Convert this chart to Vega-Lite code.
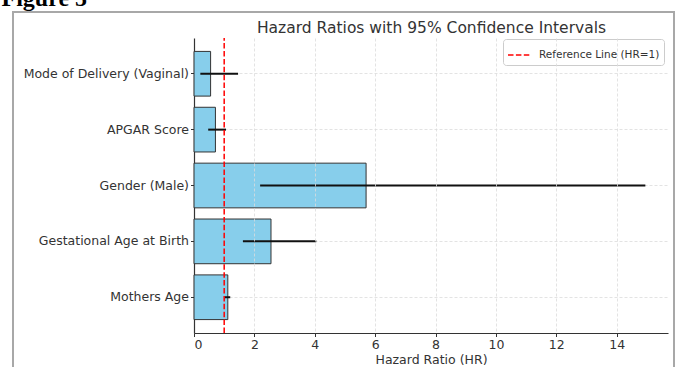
{
  "$schema": "https://vega.github.io/schema/vega-lite/v6.json",
  "width": 661,
  "height": 358,
  "autosize": {"type": "none"},
  "padding": {"left": 13, "top": 12, "right": 5, "bottom": -3},
  "datasets": {
    "hr": [
      {"factor": "Mode of Delivery (Vaginal)", "hr": 0.55, "lo": 0.21, "hi": 1.46},
      {"factor": "APGAR Score", "hr": 0.71, "lo": 0.47, "hi": 1.06},
      {"factor": "Gender (Male)", "hr": 5.7, "lo": 2.19, "hi": 14.95},
      {"factor": "Gestational Age at Birth", "hr": 2.55, "lo": 1.62, "hi": 4.05},
      {"factor": "Mothers Age", "hr": 1.12, "lo": 1.02, "hi": 1.2}
    ],
    "ref": [{"value": 1, "label": "Reference Line (HR=1)"}]
  },
  "layer": [
    {
      "data": {"name": "hr"},
      "mark": {"type": "bar", "fill": "#87ceeb", "stroke": "#333333", "strokeWidth": 1},
      "encoding": {
        "x": {
          "field": "hr", "type": "quantitative",
          "scale": {"domain": [0, 15.7], "range": [181, 655], "nice": false, "zero": true},
          "axis": {"orient": "bottom", "offset": -37, "values": [0, 2, 4, 6, 8, 10, 12, 14], "grid": false, "zindex": 1, "title": "Hazard Ratio (HR)", "titlePadding": 2.5}
        },
        "y": {
          "field": "factor", "type": "nominal",
          "scale": {"domain": ["Mode of Delivery (Vaginal)", "APGAR Score", "Gender (Male)", "Gestational Age at Birth", "Mothers Age"], "range": [26, 321], "paddingInner": 0.2, "paddingOuter": 0.24},
          "axis": {"orient": "left", "offset": -181, "grid": true, "zindex": 0, "labelLimit": 400,
            "title": "Figure 5", "titleX": -193, "titleY": -7, "titleAngle": 0, "titleAlign": "left", "titleBaseline": "alphabetic",
            "titleFont": "Liberation Serif", "titleFontSize": 24, "titleFontWeight": "bold", "titleColor": "#000000"}
        }
      }
    },
    {
      "data": {"name": "hr"},
      "mark": {"type": "rule", "color": "#111111", "strokeWidth": 2},
      "encoding": {
        "x": {
          "field": "lo", "type": "quantitative",
          "axis": {"orient": "top", "offset": -26, "values": [2, 4, 6, 8, 10, 12, 14], "labels": false, "ticks": false, "domain": false, "grid": true, "zindex": 1, "title": "Hazard Ratios with 95% Confidence Intervals", "titleFontSize": 15.5, "titleBaseline": "alphabetic", "titlePadding": 6}
        },
        "x2": {"field": "hi"},
        "y": {
          "field": "factor", "type": "nominal",
          "scale": {"domain": ["Mode of Delivery (Vaginal)", "APGAR Score", "Gender (Male)", "Gestational Age at Birth", "Mothers Age"], "range": [26, 321], "paddingInner": 0.2, "paddingOuter": 0.24},
          "axis": null
        }
      }
    },
    {
      "data": {"name": "ref"},
      "mark": {"type": "rule", "strokeWidth": 1.5, "strokeDash": [5.5, 2.4]},
      "encoding": {
        "x": {"field": "value", "type": "quantitative", "axis": null},
        "y": {"datum": 0, "type": "quantitative", "scale": {"domain": [0, 1], "range": [321, 26]}, "axis": null},
        "y2": {"datum": 1},
        "color": {
          "field": "label", "type": "nominal",
          "scale": {"range": ["#ff0000"]},
          "legend": {"title": null, "orient": "none", "legendX": 490, "legendY": 27, "symbolType": "stroke", "symbolSize": 484, "symbolStrokeWidth": 1.5, "symbolDash": [5.5, 2.4], "labelFont": "DejaVu Sans", "labelFontSize": 10.5, "labelColor": "#333333", "labelOffset": 8, "padding": 4, "fillColor": "#ffffff", "strokeColor": "#cccccc", "cornerRadius": 3}
        }
      }
    }
  ],
  "resolve": {"scale": {"y": "independent"}, "axis": {"x": "independent"}},
  "config": {
    "font": "DejaVu Sans",
    "background": "#ffffff",
    "view": {"stroke": "#a8a8a8", "strokeWidth": 2},
    "axis": {
      "labelFont": "DejaVu Sans", "labelFontSize": 12.5, "labelColor": "#333333",
      "titleFont": "DejaVu Sans", "titleFontSize": 12.5, "titleColor": "#333333", "titleFontWeight": "normal",
      "domainColor": "#333333", "domainWidth": 1.2, "tickColor": "#333333", "tickSize": 3.5, "labelPadding": 2,
      "gridColor": "#dcdcdc", "gridDash": [3, 2], "gridWidth": 0.8
    }
  }
}
